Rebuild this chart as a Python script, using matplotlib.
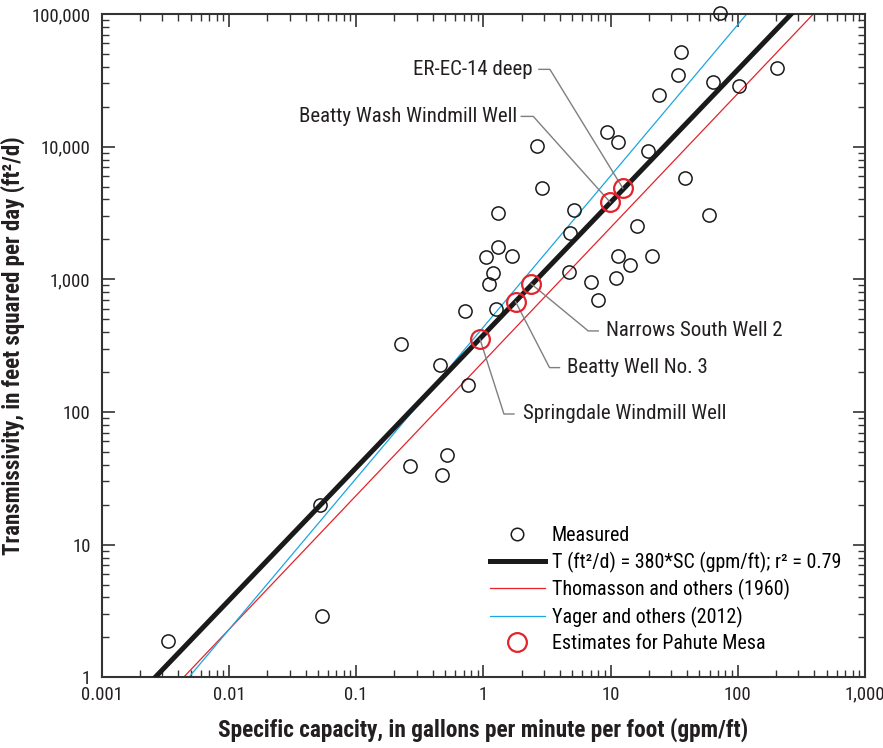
import numpy as np
import matplotlib
matplotlib.use("Agg")
import matplotlib.pyplot as plt
from matplotlib.lines import Line2D

plt.rcParams['font.family'] = ['Roboto Condensed', 'DejaVu Sans']

# mesures (capacite specifique gpm/ft, transmissivite ft2/d)
sc_mesure = [0.00334, 0.052, 0.0537, 0.225, 0.454, 0.754, 0.714, 1.26, 0.264, 0.519,
             0.471, 72.6, 35.8, 33.7, 64, 103, 203, 23.9, 9.44, 11.5,
             19.7, 2.63, 2.89, 38.3, 59.8, 1.31, 5.14, 4.81, 16.1, 1.31,
             1.04, 1.68, 1.19, 1.11, 4.69, 11.5, 14.3, 21.1, 7.06, 11.0, 8.0]
t_mesure = [1.88, 20, 2.9, 325, 225, 160, 580, 598, 39, 47,
            33.6, 102000, 51700, 34400, 30500, 28800, 39400, 24600, 13000, 10800,
            9230, 10200, 4850, 5840, 3070, 3160, 3350, 2250, 2530, 1760,
            1470, 1510, 1110, 923, 1143, 1510, 1290, 1510, 951, 1020, 699]

# estimations Pahute Mesa
puits = ["Springdale Windmill Well", "Beatty Well No. 3", "Narrows South Well 2",
         "Beatty Wash Windmill Well", "ER-EC-14 deep"]
sc_est = [0.94, 1.79, 2.38, 9.95, 12.5]
t_est = [355, 679, 923, 3800, 4850]

# relations T = a * SC^b
coef_ajust, exp_ajust = 380, 1.0
coef_thom, exp_thom = 240, 1.01
coef_yager, exp_yager = 436, 1.14

fig = plt.figure(figsize=(8.83, 7.48), dpi=100)
ax = fig.add_axes([0.1152, 0.0945, 0.8644, 0.8868])
ax.set_xscale('log')
ax.set_yscale('log')
ax.set_xlim(0.001, 1000)
ax.set_ylim(1, 100000)

xx = np.logspace(-3, 3, 200)
ax.plot(xx, coef_thom * xx**exp_thom, color='#e4232b', lw=0.9, zorder=2)
ax.plot(xx, coef_yager * xx**exp_yager, color='#1ba7e1', lw=0.9, zorder=2)
ax.plot(xx, coef_ajust * xx**exp_ajust, color='#1a1a1a', lw=3.6, zorder=3)

ax.plot(sc_mesure, t_mesure, 'o', ms=9.5, mfc='none', mec='#1a1a1a', mew=1.1,
        clip_on=False, zorder=4)
ax.plot(sc_est, t_est, 'o', ms=13.5, mfc='none', mec='#e4232b', mew=1.6, zorder=6)

# etiquettes avec traits de rappel (decalages en pixels depuis le point)
coude = [(24, -75), (34, -66), (57, -47), (-77, 86), (-73, 119)]
bout = [(34, -75), (44, -66), (67, -47), (-89, 86), (-84, 119)]
texte = [(43, -75), (51, -66), (75, -47), (-93, 86), (-90, 119)]
inv = ax.transData.inverted()
for i in range(len(puits)):
    p0 = ax.transData.transform((sc_est[i], t_est[i]))
    xs = [p0[0], p0[0] + coude[i][0], p0[0] + bout[i][0]]
    ys = [p0[1], p0[1] + coude[i][1], p0[1] + bout[i][1]]
    d = inv.transform(np.column_stack([xs, ys]))
    ax.plot(d[:, 0], d[:, 1], color='#7f7f7f', lw=1.0, zorder=5)
    ha = 'left' if texte[i][0] > 0 else 'right'
    ax.annotate(puits[i], xy=(sc_est[i], t_est[i]), xytext=texte[i],
                textcoords='offset pixels', ha=ha, va='center',
                fontsize=15, color='#231f20')

poignees = [
    Line2D([], [], ls='none', marker='o', ms=9, mfc='none', mec='#1a1a1a', mew=1.1),
    Line2D([], [], color='#1a1a1a', lw=3.6),
    Line2D([], [], color='#e4232b', lw=0.9),
    Line2D([], [], color='#1ba7e1', lw=0.9),
    Line2D([], [], ls='none', marker='o', ms=13.5, mfc='none', mec='#e4232b', mew=1.6),
]
noms = ["Measured", "T (ft\u00b2/d) = 380*SC (gpm/ft); r\u00b2 = 0.79",
        "Thomasson and others (1960)", "Yager and others (2012)",
        "Estimates for Pahute Mesa"]
ax.legend(poignees, noms, loc='upper left', bbox_to_anchor=(0.5087, 0.228),
          frameon=False, fontsize=14.4, handlelength=2.75, handletextpad=0.35,
          labelspacing=0.32, borderpad=0, borderaxespad=0)

ax.set_xticks([0.001, 0.01, 0.1, 1, 10, 100, 1000])
ax.set_xticklabels(['0.001', '0.01', '0.1', '1', '10', '100', '1,000'])
ax.set_yticks([1, 10, 100, 1000, 10000, 100000])
ax.set_yticklabels(['1', '10', '100', '1,000', '10,000', '100,000'])
ax.tick_params(which='both', direction='in', top=True, right=True, colors='#333333',
               labelcolor='#231f20', labelsize=13.5)
ax.tick_params(which='major', length=9, width=1.2, pad=6)
ax.tick_params(axis='y', which='major', pad=8)
ax.tick_params(which='minor', length=5, width=1.0)
for s in ax.spines.values():
    s.set_linewidth(1.5)
    s.set_color('#333333')

ax.set_xlabel("Specific capacity, in gallons per minute per foot (gpm/ft)",
              fontsize=16.8, fontweight='bold', color='#231f20', labelpad=10)
ax.set_ylabel("Transmissivity, in feet squared per day (ft\u00b2/d)",
              fontsize=16.5, fontweight='bold', color='#231f20', labelpad=5)

fig.savefig("out.png", dpi=100)
